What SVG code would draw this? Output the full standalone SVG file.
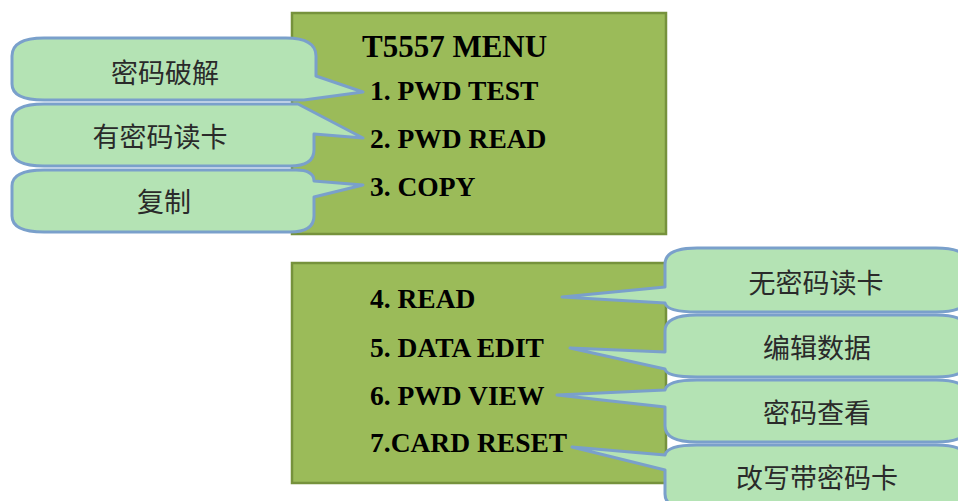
<svg xmlns="http://www.w3.org/2000/svg" width="958" height="501" viewBox="0 0 958 501">
<style>
.box{fill:#9bbb59;stroke:#76923c;stroke-width:2.5}
.call{fill:#b4e3b4;stroke:#7aa0cb;stroke-width:3;stroke-linejoin:round}
.en{font-family:"Liberation Serif","Times New Roman",serif;font-weight:bold;font-size:27.5px;fill:#000}
.ttl{font-size:31px}
.zh{font-family:"Noto Sans CJK SC",sans-serif;font-size:27px;fill:#2a2a2a;text-anchor:middle}
</style>
<rect width="958" height="501" fill="#fff"/>
<g id="menu-top">
<rect class="box" x="292" y="13" width="374" height="221"/>
<text class="en ttl" x="362" y="57">T5557 MENU</text>
<text class="en" x="370" y="100">1. PWD TEST</text>
<text class="en" x="370" y="148">2. PWD READ</text>
<text class="en" x="370" y="196">3. COPY</text>
</g>
<g id="menu-bottom">
<rect class="box" x="292" y="263" width="374" height="220"/>
<text class="en" x="370" y="308">4. READ</text>
<text class="en" x="370" y="357">5. DATA EDIT</text>
<text class="en" x="370" y="405">6. PWD VIEW</text>
<text class="en" x="370" y="452">7.CARD RESET</text>
</g>
<g id="callout-1">
<path class="call" d="M44,38 L286,38 Q316,38 316,56 L316,76 L363,92 L304,100 L44,100 Q12,100 12,84 L12,56 Q12,38 44,38 Z"/>
<text class="zh" x="165" y="83">密码破解</text>
</g>
<g id="callout-2">
<path class="call" d="M44,104 L298,104 L363,138 L314,134 L314,150 Q314,166 290,166 L44,166 Q12,166 12,150 L12,120 Q12,104 44,104 Z"/>
<text class="zh" x="160" y="147">有密码读卡</text>
</g>
<g id="callout-3">
<path class="call" d="M44,170 L296,170 Q314,170 314,181 L363,185 L314,197 L314,216 Q314,232 290,232 L44,232 Q12,232 12,216 L12,186 Q12,170 44,170 Z"/>
<text class="zh" x="164" y="212">复制</text>
</g>
<g id="callout-4">
<path class="call" d="M665,264 Q665,248 697,248 L936,248 Q968,248 968,264 L968,296 Q968,312 936,312 L697,312 Q667,312 665,303 L562,297 L665,287 Z"/>
<text class="zh" x="816" y="293">无密码读卡</text>
</g>
<g id="callout-5">
<path class="call" d="M665,331 Q665,315 697,315 L936,315 Q968,315 968,331 L968,361 Q968,377 936,377 L697,377 Q666,377 665,369 L570,348 L665,352 Z"/>
<text class="zh" x="817" y="358">编辑数据</text>
</g>
<g id="callout-6">
<path class="call" d="M697,380 L936,380 Q968,380 968,396 L968,426 Q968,442 936,442 L697,442 Q665,442 665,426 L665,407 L557,395 L665,390 Q667,380 697,380 Z"/>
<text class="zh" x="817" y="423">密码查看</text>
</g>
<g id="callout-7">
<path class="call" d="M697,445 L936,445 Q968,445 968,461 L968,494 Q968,510 936,510 L697,510 Q665,510 665,494 L665,470 L572,447 L665,455 Q667,445 697,445 Z"/>
<text class="zh" x="817" y="488">改写带密码卡</text>
</g>
</svg>
